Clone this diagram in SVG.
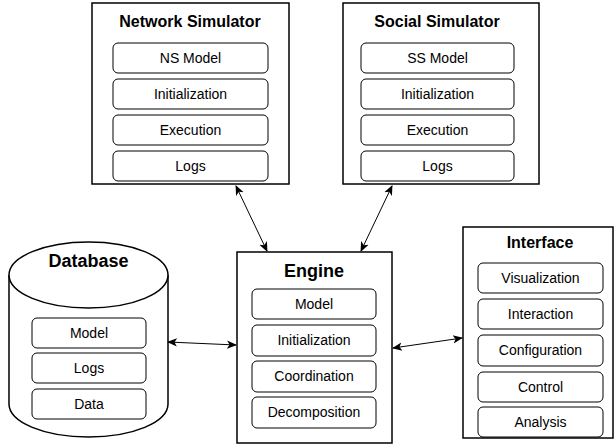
<svg xmlns="http://www.w3.org/2000/svg" width="614" height="448" viewBox="0 0 614 448">
  <defs>
    <style>
      .frame { fill: #ffffff; stroke: #000000; stroke-width: 1.5; }
      .item { fill: #ffffff; stroke: #000000; stroke-width: 1; }
      .title { font-family: "Liberation Sans", Arial, sans-serif; font-weight: bold; fill: #000000; text-anchor: middle; }
      .label { font-family: "Liberation Sans", Arial, sans-serif; font-size: 14px; fill: #000000; text-anchor: middle; }
      .link { fill: none; stroke: #000000; stroke-width: 1; marker-start: url(#tip); marker-end: url(#tip); }
    </style>
    <marker id="tip" viewBox="0 0 10 10" refX="9" refY="5" markerWidth="10" markerHeight="10" markerUnits="userSpaceOnUse" orient="auto-start-reverse">
      <path d="M0,0.8 L10,5 L0,9.2 L2.5,5 Z" fill="#000000"/>
    </marker>
  </defs>

  <!-- Network Simulator -->
  <g id="network-simulator">
    <rect class="frame" x="92" y="3" width="197" height="181"/>
    <text class="title" x="190" y="27" font-size="16">Network Simulator</text>
    <rect class="item" x="113" y="43" width="155" height="30" rx="5"/>
    <text class="label" x="190.5" y="63">NS Model</text>
    <rect class="item" x="113" y="79" width="155" height="30" rx="5"/>
    <text class="label" x="190.5" y="99">Initialization</text>
    <rect class="item" x="113" y="115" width="155" height="30" rx="5"/>
    <text class="label" x="190.5" y="135">Execution</text>
    <rect class="item" x="113" y="151" width="155" height="30" rx="5"/>
    <text class="label" x="190.5" y="171">Logs</text>
  </g>

  <!-- Social Simulator -->
  <g id="social-simulator">
    <rect class="frame" x="343" y="3" width="196" height="181"/>
    <text class="title" x="437" y="27" font-size="16">Social Simulator</text>
    <rect class="item" x="361" y="43" width="153" height="30" rx="5"/>
    <text class="label" x="437.5" y="63">SS Model</text>
    <rect class="item" x="361" y="79" width="153" height="30" rx="5"/>
    <text class="label" x="437.5" y="99">Initialization</text>
    <rect class="item" x="361" y="115" width="153" height="30" rx="5"/>
    <text class="label" x="437.5" y="135">Execution</text>
    <rect class="item" x="361" y="151" width="153" height="30" rx="5"/>
    <text class="label" x="437.5" y="171">Logs</text>
  </g>

  <!-- Database cylinder -->
  <g id="database">
    <path class="frame" d="M9,275 A79.5,33 0 0 1 168,275 L168,404 A79.5,33 0 0 1 9,404 Z"/>
    <path class="frame" d="M9,275 A79.5,33 0 0 0 168,275" fill="none"/>
    <text class="title" x="88.5" y="267" font-size="18">Database</text>
    <rect class="item" x="32" y="318" width="114" height="30" rx="5"/>
    <text class="label" x="89" y="338">Model</text>
    <rect class="item" x="32" y="353" width="114" height="30" rx="5"/>
    <text class="label" x="89" y="373">Logs</text>
    <rect class="item" x="32" y="389" width="114" height="30" rx="5"/>
    <text class="label" x="89" y="409">Data</text>
  </g>

  <!-- Engine -->
  <g id="engine">
    <rect class="frame" x="237" y="252" width="155" height="191"/>
    <text class="title" x="314" y="277" font-size="18">Engine</text>
    <rect class="item" x="252" y="289" width="124" height="30" rx="5"/>
    <text class="label" x="314" y="309">Model</text>
    <rect class="item" x="252" y="325" width="124" height="31" rx="5"/>
    <text class="label" x="314" y="345">Initialization</text>
    <rect class="item" x="252" y="361" width="124" height="31" rx="5"/>
    <text class="label" x="314" y="381">Coordination</text>
    <rect class="item" x="252" y="397" width="124" height="31" rx="5"/>
    <text class="label" x="314" y="417">Decomposition</text>
  </g>

  <!-- Interface -->
  <g id="interface">
    <rect class="frame" x="463" y="227" width="150" height="211"/>
    <text class="title" x="540" y="248" font-size="16">Interface</text>
    <rect class="item" x="478" y="263" width="125" height="30" rx="5"/>
    <text class="label" x="540.5" y="283">Visualization</text>
    <rect class="item" x="478" y="299" width="125" height="30" rx="5"/>
    <text class="label" x="540.5" y="319">Interaction</text>
    <rect class="item" x="478" y="335" width="125" height="31" rx="5"/>
    <text class="label" x="540.5" y="355">Configuration</text>
    <rect class="item" x="478" y="372" width="125" height="30" rx="5"/>
    <text class="label" x="540.5" y="392">Control</text>
    <rect class="item" x="478" y="407" width="125" height="30" rx="5"/>
    <text class="label" x="540.5" y="427">Analysis</text>
  </g>

  <!-- Connectors -->
  <g id="connectors">
    <path class="link" d="M236,186 L267,251"/>
    <path class="link" d="M392,186 L361,251"/>
    <path class="link" d="M168,342 L236,345"/>
    <path class="link" d="M393,348 L462,338"/>
  </g>
</svg>
